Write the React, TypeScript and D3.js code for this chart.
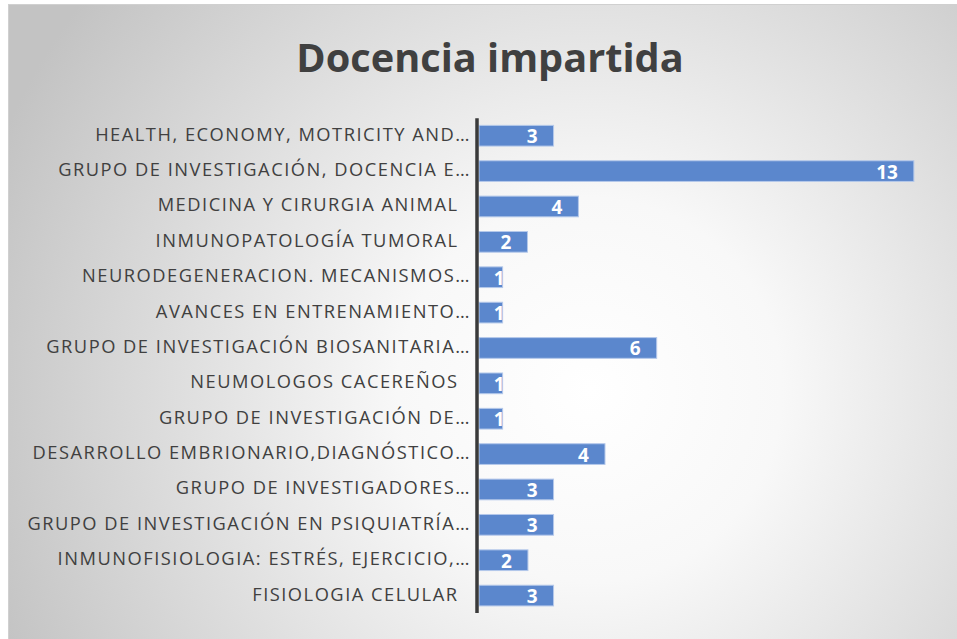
import React from "react";
import * as d3 from "d3";

// categories, top to bottom
const categories = [
  "HEALTH, ECONOMY, MOTRICITY AND…",
  "GRUPO DE INVESTIGACIÓN, DOCENCIA E…",
  "MEDICINA Y CIRURGIA ANIMAL  ",
  "INMUNOPATOLOGÍA TUMORAL  ",
  "NEURODEGENERACION. MECANISMOS…",
  "AVANCES EN ENTRENAMIENTO…",
  "GRUPO DE INVESTIGACIÓN BIOSANITARIA…",
  "NEUMOLOGOS CACEREÑOS  ",
  "GRUPO DE INVESTIGACIÓN DE…",
  "DESARROLLO EMBRIONARIO,DIAGNÓSTICO…",
  "GRUPO DE INVESTIGADORES…",
  "GRUPO DE INVESTIGACIÓN EN PSIQUIATRÍA…",
  "INMUNOFISIOLOGIA: ESTRÉS, EJERCICIO,…",
  "FISIOLOGIA CELULAR  ",
];

// bar lengths
const barValues = [3, 17.5, 4, 1.95, 0.95, 0.95, 7.15, 0.95, 0.95, 5.07, 3, 3, 1.97, 3];

// data labels printed on the bars
const dataLabels = ["3", "13", "4", "2", "1", "1", "6", "1", "1", "4", "3", "3", "2", "3"];

const W = 957;
const H = 639;
const font = "'Open Sans', sans-serif";

export default function App() {
  const x = d3.scaleLinear().domain([0, 18]).range([479, 479 + 18 * 24.85]);
  const y = d3
    .scaleBand<number>()
    .domain(d3.range(categories.length))
    .range([118.3, 613])
    .paddingInner(0.415)
    .paddingOuter(0.2);

  return (
    <div style={{ position: "fixed", left: 0, top: 0 }}>
      <svg width={W} height={H} style={{ display: "block" }}>
        <defs>
          <radialGradient id="bg" gradientUnits="userSpaceOnUse" cx={590} cy={390} r={640}>
            <stop offset="0" stopColor="#ffffff" />
            <stop offset="0.3" stopColor="#f8f8f8" />
            <stop offset="1" stopColor="#c3c3c3" />
          </radialGradient>
        </defs>
        <rect x={0} y={0} width={W} height={H} fill="#fff" />
        <rect x={8.5} y={4.5} width={W} height={H} fill="url(#bg)" stroke="#d0d0d0" strokeWidth={1} />

        <text
          x={490}
          y={72}
          textAnchor="middle"
          fontFamily={font}
          fontWeight="bold"
          fontSize={39.7}
          fill="#404040"
        >
          Docencia impartida
        </text>

        {categories.map((c, i) => {
          const cy = (y(i) as number) + y.bandwidth() / 2;
          const end = x(barValues[i]);
          const tw = dataLabels[i].length * 10.5;
          const lx = Math.max(end - 16, x(0) + 15 + tw);
          return (
            <g key={i}>
              <text
                x={471}
                y={cy + 5}
                textAnchor="end"
                fontFamily={font}
                fontSize={18.3}
                letterSpacing={1.5}
                fill="#404040"
                xmlSpace="preserve"
                style={{ whiteSpace: "pre" }}
              >
                {c}
              </text>
              <rect
                x={x(0)}
                y={y(i)}
                width={end - x(0)}
                height={y.bandwidth()}
                fill="#5B87CD"
                stroke="#B4C8EA"
                strokeWidth={1}
              />
              <text
                x={lx}
                y={cy + 7.5}
                textAnchor="end"
                fontFamily={font}
                fontWeight="bold"
                fontSize={19}
                fill="#ffffff"
              >
                {dataLabels[i]}
              </text>
            </g>
          );
        })}

        <line x1={477} x2={477} y1={118.3} y2={613} stroke="#3a3a3a" strokeWidth={3.5} />
      </svg>
    </div>
  );
}
